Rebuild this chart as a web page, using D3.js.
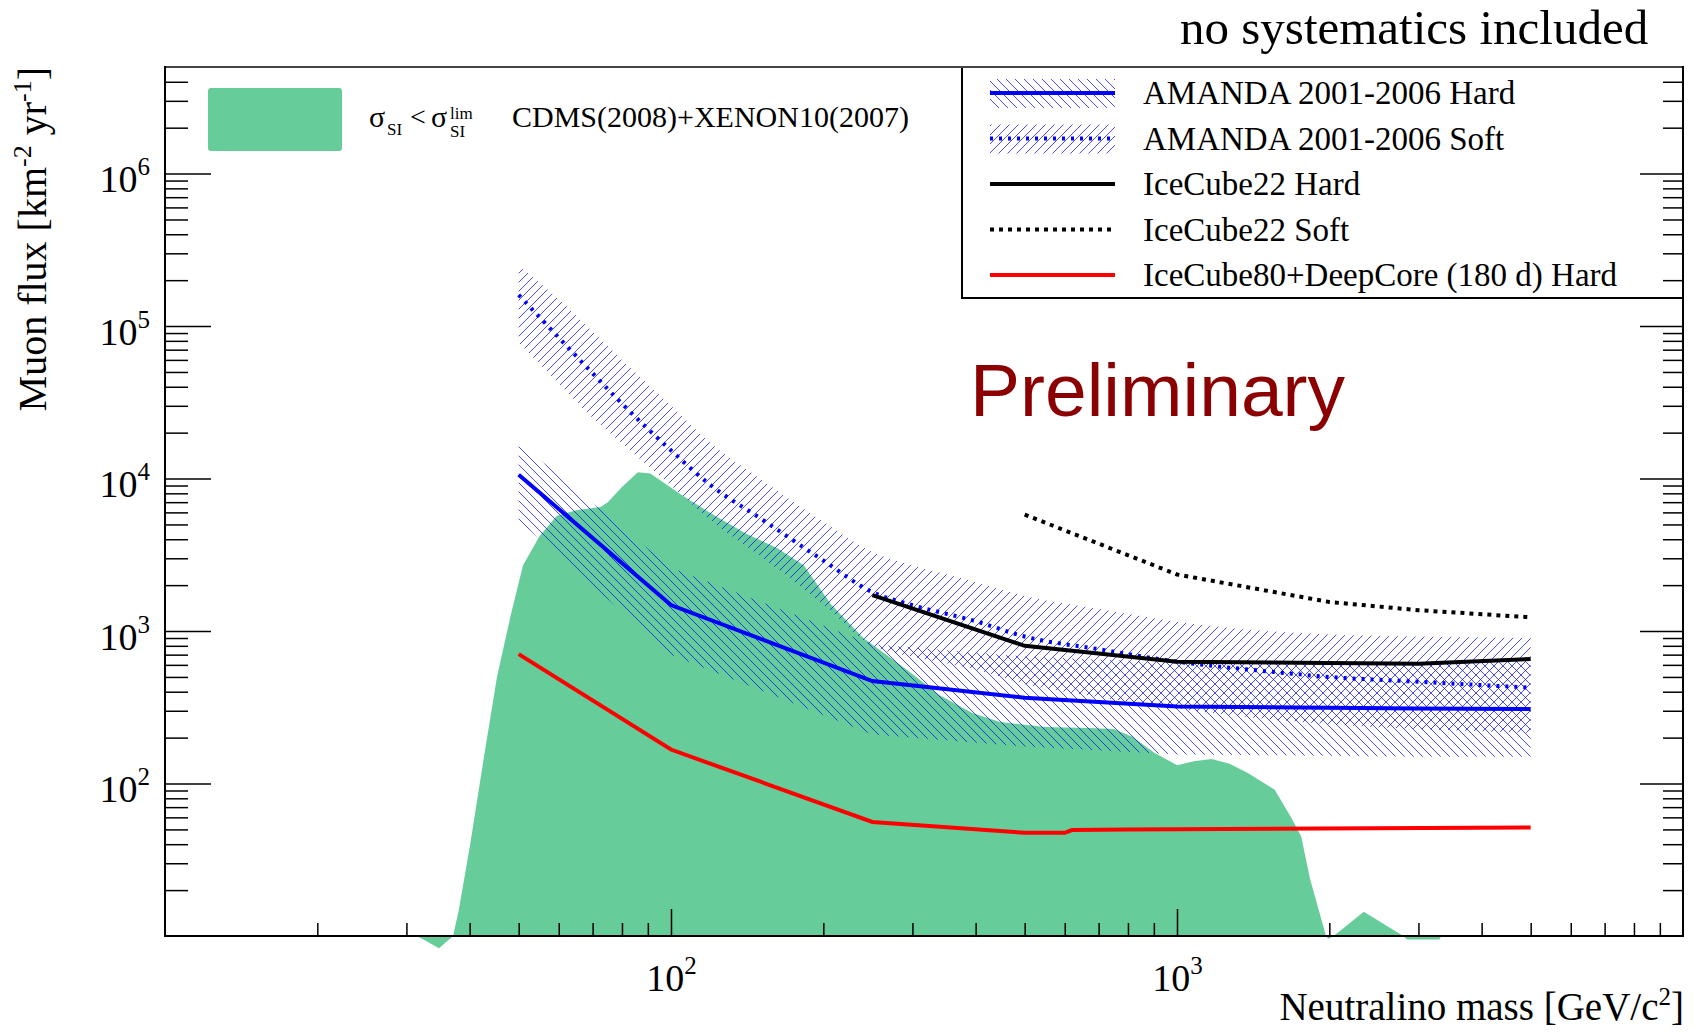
<!DOCTYPE html>
<html>
<head>
<meta charset="utf-8">
<script src="https://cdn.jsdelivr.net/npm/d3@7"></script>
<style>
body { margin: 0; background: #fff; }
text { font-family: "Liberation Serif", "Times New Roman", serif; }
</style>
</head>
<body>
<script>
var width  = 1693;
var height = 1034;

// neutralino mass [GeV/c^2] and muon flux limits [km^-2 yr^-1]
var amandaHardMass = [50, 100, 250, 500, 1000, 3000, 5000];
var amandaHard     = [10600, 1480, 470, 365, 320, 310, 308];
var amandaHardUp   = [17300, 2600, 820, 680, 620, 630, 640];
var amandaHardLow  = [5300, 700, 210, 175, 155, 150, 150];

var amandaSoftMass = [50, 60, 70, 80, 100, 120, 150, 200, 250, 300, 400, 500, 700, 1000, 1500, 2000, 3000, 5000];
var amandaSoft     = [160000, 84000, 49000, 31000, 15300, 9000, 5500, 2900, 1800, 1480, 1160, 920, 760, 630, 545, 500, 465, 425];
var amandaSoftUp   = [250000, 150000, 92000, 60000, 30000, 17000, 10000, 5200, 3300, 2700, 2100, 1700, 1400, 1150, 1000, 950, 920, 900];
var amandaSoftLow  = [78000, 42000, 25000, 17000, 9000, 5300, 3100, 1500, 800, 680, 560, 450, 370, 310, 265, 245, 228, 215];

var ic22HardMass = [250, 500, 1000, 3000, 5000];
var ic22Hard     = [1720, 800, 630, 610, 655];

var ic22SoftMass = [500, 1000, 2000, 3000, 5000];
var ic22Soft     = [5800, 2350, 1550, 1370, 1230];

var ic80Mass = [50, 100, 250, 500, 600, 620, 800, 5000];
var ic80     = [706, 167, 56, 47.5, 47.5, 49.5, 50, 51.5];

var cdmsMass = [10.9, 31.5, 34.8, 37.1, 38.1, 40.1, 42.7, 45.3, 48.3, 51, 55, 59.5, 65, 72.6, 75, 80, 86, 91, 105, 121, 140, 162, 183, 207, 240, 292, 339, 394, 447, 550, 667, 750, 818, 900, 1000, 1080, 1170, 1270, 1380, 1560, 1680, 1760, 1830, 1970, 1990, 2040, 2340, 2800, 2850, 3300, 3330];
var cdmsFlux = [10, 10, 8.3, 10, 15, 40, 150, 500, 1300, 2700, 4200, 5700, 6200, 6500, 7000, 8800, 11000, 10800, 7800, 5800, 4400, 3500, 2700, 1500, 900, 560, 380, 290, 253, 235, 231, 228, 202, 160, 132, 140, 145, 135, 117, 91, 60, 45, 24, 10, 9.6, 10, 14.4, 10, 9.5, 9.5, 10];

var xTickMajor = [100, 1000];
var yTickMajor = [1e2, 1e3, 1e4, 1e5, 1e6];

var legendLabels = ["AMANDA 2001-2006 Hard", "AMANDA 2001-2006 Soft", "IceCube22 Hard", "IceCube22 Soft", "IceCube80+DeepCore (180 d) Hard"];

var x = d3.scaleLog().domain([10, 1e4]).range([165, 1683]);
var y = d3.scaleLog().domain([10, 5e6]).range([936, 67]);

var svg = d3.select("body").append("svg").attr("width", width).attr("height", height);
var defs = svg.append("defs");

function hatch(id, d) {
	defs.append("pattern").attr("id", id).attr("patternUnits", "userSpaceOnUse")
		.attr("width", 9).attr("height", 9)
		.append("path").attr("d", d).attr("fill", "none")
		.attr("stroke", "#0000ff").attr("stroke-width", 1).attr("stroke-opacity", 0.7);
}
hatch("hatchHard", "M0,0L9,9M-4.5,4.5L4.5,13.5M4.5,-4.5L13.5,4.5");
hatch("hatchSoft", "M0,9L9,0M-4.5,4.5L4.5,-4.5M4.5,13.5L13.5,4.5");

var line = d3.line().x(function(d){ return x(d[0]); }).y(function(d){ return y(d[1]); });
var band = d3.area().x(function(d){ return x(d[0]); })
	.y0(function(d){ return y(d[1]); }).y1(function(d){ return y(d[2]); });

var plot = svg.append("g");

// CDMS + XENON10 allowed region
plot.append("path").datum(d3.zip(cdmsMass, cdmsFlux))
	.attr("d", d3.area().x(function(d){ return x(d[0]); }).y0(y(10)).y1(function(d){ return y(d[1]); }))
	.attr("fill", "#66cc99");

plot.append("path").datum(d3.zip(amandaHardMass, amandaHardLow, amandaHardUp))
	.attr("d", band).attr("fill", "url(#hatchHard)");
plot.append("path").datum(d3.zip(amandaSoftMass, amandaSoftLow, amandaSoftUp))
	.attr("d", band.curve(d3.curveMonotoneX)).attr("fill", "url(#hatchSoft)");

plot.append("path").datum(d3.zip(amandaHardMass, amandaHard))
	.attr("d", line).attr("fill", "none").attr("stroke", "#0000ff").attr("stroke-width", 4);
plot.append("path").datum(d3.zip(amandaSoftMass, amandaSoft))
	.attr("d", line.curve(d3.curveMonotoneX)).attr("fill", "none").attr("stroke", "#0000ff")
	.attr("stroke-width", 4).attr("stroke-dasharray", "3,6");
line.curve(d3.curveLinear);
plot.append("path").datum(d3.zip(ic22HardMass, ic22Hard))
	.attr("d", line).attr("fill", "none").attr("stroke", "#000").attr("stroke-width", 4);
plot.append("path").datum(d3.zip(ic22SoftMass, ic22Soft))
	.attr("d", line).attr("fill", "none").attr("stroke", "#000")
	.attr("stroke-width", 4).attr("stroke-dasharray", "4,5");
plot.append("path").datum(d3.zip(ic80Mass, ic80))
	.attr("d", line).attr("fill", "none").attr("stroke", "#ff0000").attr("stroke-width", 4);

// legends
svg.append("rect").attr("x", 208).attr("y", 88).attr("width", 134).attr("height", 63)
	.attr("rx", 3).attr("fill", "#66cc99");
svg.append("text").attr("x", 369).attr("y", 127).attr("font-size", 30).text("σ");
svg.append("text").attr("x", 387).attr("y", 135).attr("font-size", 17).text("SI");
svg.append("text").attr("x", 410).attr("y", 126).attr("font-size", 28).text("<");
svg.append("text").attr("x", 431).attr("y", 127).attr("font-size", 30).text("σ");
svg.append("text").attr("x", 450).attr("y", 119).attr("font-size", 17).text("lim");
svg.append("text").attr("x", 450).attr("y", 137).attr("font-size", 17).text("SI");
svg.append("text").attr("x", 512).attr("y", 127).attr("font-size", 30).text("CDMS(2008)+XENON10(2007)");

var leg = svg.append("g");
leg.append("rect").attr("x", 962).attr("y", 67).attr("width", 721).attr("height", 231)
	.attr("fill", "#fff").attr("stroke", "#000").attr("stroke-width", 2);
var legStyle = [
	{ c: "#0000ff", dash: null,  fill: "url(#hatchHard)" },
	{ c: "#0000ff", dash: "3,6", fill: "url(#hatchSoft)" },
	{ c: "#000",    dash: null,  fill: null },
	{ c: "#000",    dash: "4,5", fill: null },
	{ c: "#ff0000", dash: null,  fill: null }
];
legendLabels.forEach(function(lab, i) {
	var ly = 93 + i * 45.5;
	var s = legStyle[i];
	if (s.fill) {
		leg.append("rect").attr("x", 990).attr("y", ly - 14).attr("width", 125).attr("height", 29).attr("fill", s.fill);
	}
	leg.append("line").attr("x1", 990).attr("x2", 1115).attr("y1", ly).attr("y2", ly)
		.attr("stroke", s.c).attr("stroke-width", 4).attr("stroke-dasharray", s.dash);
	leg.append("text").attr("x", 1143).attr("y", ly + 11).attr("font-size", 33).text(lab);
});

// axes
function isMajor(v) { return Math.abs(Math.log10(v) - Math.round(Math.log10(v))) < 1e-9; }
var xMinor = x.ticks().filter(function(v){ return v > 10 && v < 1e4 && !isMajor(v); });
var yMinor = y.ticks().filter(function(v){ return v > 10 && v < 5e6 && !isMajor(v); });

function powLabel(g) {
	g.selectAll(".tick text").each(function(v) {
		var t = d3.select(this).text("10");
		t.append("tspan").attr("dy", -17).attr("font-size", 25).text(Math.round(Math.log10(v)));
	});
}
function styleAxis(g) {
	g.select(".domain").remove();
	g.selectAll(".tick line").attr("stroke-width", 1.5);
	g.attr("font-family", "Liberation Serif, serif").attr("font-size", 38);
}

var gx = svg.append("g").attr("transform", "translate(0,936)");
gx.append("g").call(d3.axisBottom(x).tickValues(xMinor).tickSize(-13).tickSizeOuter(0).tickFormat("")).call(styleAxis);
gx.append("g").call(d3.axisBottom(x).tickValues(xTickMajor).tickSize(-27).tickSizeOuter(0)).call(styleAxis)
	.call(function(g){ g.selectAll(".tick text").attr("y", 55).attr("dy", 0); })
	.call(powLabel);

var gy = svg.append("g").attr("transform", "translate(165,0)");
gy.append("g").call(d3.axisLeft(y).tickValues(yMinor).tickSize(-23).tickSizeOuter(0).tickFormat("")).call(styleAxis);
gy.append("g").call(d3.axisLeft(y).tickValues(yTickMajor).tickSize(-46).tickSizeOuter(0)).call(styleAxis)
	.call(function(g){ g.selectAll(".tick text").attr("x", -15).attr("dy", 18); })
	.call(powLabel);

var gr = svg.append("g").attr("transform", "translate(1683,0)");
gr.append("g").call(d3.axisRight(y).tickValues(yMinor).tickSize(-20).tickSizeOuter(0).tickFormat("")).call(styleAxis);
gr.append("g").call(d3.axisRight(y).tickValues(yTickMajor).tickSize(-43).tickSizeOuter(0).tickFormat("")).call(styleAxis);

// frame
svg.append("line").attr("x1", 165).attr("x2", 1683).attr("y1", 67).attr("y2", 67).attr("stroke", "#444").attr("stroke-width", 2);
svg.append("line").attr("x1", 165).attr("x2", 1683).attr("y1", 936).attr("y2", 936).attr("stroke", "#000").attr("stroke-width", 2);
svg.append("line").attr("x1", 165).attr("x2", 165).attr("y1", 66).attr("y2", 937).attr("stroke", "#000").attr("stroke-width", 2);
svg.append("line").attr("x1", 1683).attr("x2", 1683).attr("y1", 66).attr("y2", 937).attr("stroke", "#000").attr("stroke-width", 2);

// titles
var yt = svg.append("text").attr("transform", "translate(46,67) rotate(-90)")
	.attr("text-anchor", "end").attr("font-size", 40).text("Muon flux [km");
yt.append("tspan").attr("dy", -15).attr("font-size", 26).text("-2");
yt.append("tspan").attr("dy", 15).attr("font-size", 40).text(" yr");
yt.append("tspan").attr("dy", -15).attr("font-size", 26).text("-1");
yt.append("tspan").attr("dy", 15).attr("font-size", 40).text("]");

var xt = svg.append("text").attr("x", 1684).attr("y", 1020)
	.attr("text-anchor", "end").attr("font-size", 39).text("Neutralino mass [GeV/c");
xt.append("tspan").attr("dy", -15).attr("font-size", 25).text("2");
xt.append("tspan").attr("dy", 15).attr("font-size", 39).text("]");

svg.append("text").attr("x", 1180).attr("y", 44).attr("font-size", 49).text("no systematics included");

svg.append("text").attr("x", 970).attr("y", 416).attr("font-size", 75)
	.style("font-family", "'Liberation Sans', Arial, sans-serif").attr("fill", "#8b0000").text("Preliminary");
</script>
</body>
</html>
